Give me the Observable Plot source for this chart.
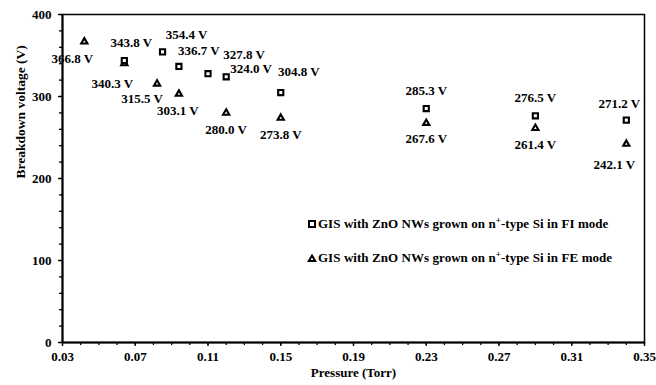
<!DOCTYPE html>
<html>
<head>
<meta charset="utf-8">
<script src="https://cdn.jsdelivr.net/npm/d3@7"></script>
<script src="https://cdn.jsdelivr.net/npm/@observablehq/plot@0.6"></script>
<style>
  html, body { margin: 0; padding: 0; background: white; }
  #wrap { position: relative; width: 656px; height: 385px; }
  .legend { position: absolute; left: 307px; font-family: "Liberation Serif", "Times New Roman", serif; font-weight: bold; font-size: 13px; word-spacing: 0.3px; white-space: nowrap; line-height: 16px; }
  .legend svg { vertical-align: middle; margin-right: 1px; position: relative; top: -1px; }
  .legend sup { font-size: 9px; vertical-align: 5px; line-height: 0; }
</style>
</head>
<body>
<div id="wrap"></div>
<script>
// FI mode (squares)
const pressureFI = [0.064, 0.085, 0.094, 0.110, 0.120, 0.150, 0.230, 0.290, 0.340];
const voltageFI  = [343.8, 354.4, 336.7, 327.8, 324.0, 304.8, 285.3, 276.5, 271.2];
// FE mode (triangles)
const pressureFE = [0.042, 0.064, 0.082, 0.094, 0.120, 0.150, 0.230, 0.290, 0.340];
const voltageFE  = [366.8, 340.3, 315.5, 303.1, 280.0, 273.8, 267.6, 261.4, 242.1];

const xTickValues = [0.03, 0.07, 0.11, 0.15, 0.19, 0.23, 0.27, 0.31, 0.35];
const yTickValues = [0, 100, 200, 300, 400];
const seriesNames = ["GIS with ZnO NWs grown on n", "-type Si in FI mode", "-type Si in FE mode"];

// label placement offsets (px), layout only
const dxFI = [7, 24, 20, 36, 25, 18, 0, 0, -7];
const dyFI = [-18, -17.5, -16, -18.5, -8, -21, -17.5, -17.5, -16];
const dxFE = [-12, -12, -15, -1, 0, 0, 0, 0, -12];
const dyFE = [17, 20, 15, 17, 17, 17, 16, 17, 21];

const fi = pressureFI.map((p, i) => ({p, v: voltageFI[i], dx: dxFI[i], dy: dyFI[i]}));
const fe = pressureFE.map((p, i) => ({p, v: voltageFE[i], dx: dxFE[i], dy: dyFE[i]}));

const xMinor = d3.range(3, 36).map(d => d / 100);
const yMinor = d3.range(0, 401, 20);

const fmtV = d => d3.format(".1f")(d) + " V";
const fam = "'Liberation Serif', 'Times New Roman', serif";

const labelMarks = (data) => data.map(d =>
  Plot.text([d], {x: "p", y: "v", text: r => fmtV(r.v), dx: d.dx, dy: d.dy, fontSize: 13, fontWeight: "bold", fill: "black"})
);

const chart = Plot.plot({
  width: 656,
  height: 385,
  marginLeft: 62,
  marginRight: 12,
  marginTop: 14,
  marginBottom: 43,
  style: {fontFamily: fam, fontWeight: "bold", fontSize: "13px", background: "white", color: "black"},
  x: {domain: [0.03, 0.35]},
  y: {domain: [0, 400]},
  marks: [
    Plot.axisX({ticks: xMinor, tickSize: 3, tickFormat: () => "", label: null, strokeWidth: 1.3}),
    Plot.axisX({ticks: xTickValues, tickSize: 4, tickPadding: 5, tickFormat: d3.format(".2f"), label: null, fontSize: 13, strokeWidth: 1.3}),
    Plot.axisY({ticks: yMinor, tickSize: 3, tickFormat: () => "", label: null, strokeWidth: 1.3}),
    Plot.axisY({ticks: yTickValues, tickSize: 4, tickPadding: 7, tickFormat: d3.format("d"), label: null, fontSize: 13, strokeWidth: 1.3}),
    Plot.frame({stroke: "black", strokeWidth: 1.5}),
    Plot.ruleY([0], {stroke: "black", strokeWidth: 2}),
    Plot.ruleX([0.03], {stroke: "black", strokeWidth: 2}),
    Plot.text(["Breakdown voltage (V)"], {frameAnchor: "left", rotate: -90, dx: -42, fontSize: 13.5, fontWeight: "bold"}),
    Plot.text(["Pressure (Torr)"], {frameAnchor: "bottom", dy: 34, fontSize: 13, fontWeight: "bold"}),
    Plot.dot(fe, {x: "p", y: "v", symbol: "triangle", r: 2.3, stroke: "black", strokeWidth: 2.1, fill: "white"}),
    Plot.dot(fi, {x: "p", y: "v", symbol: "square", r: 2.9, stroke: "black", strokeWidth: 2.1, fill: "white"}),
    ...labelMarks(fi),
    ...labelMarks(fe)
  ]
});

const wrap = document.getElementById("wrap");
wrap.appendChild(chart);

const sqIcon = '<svg width="10" height="10"><rect x="2" y="2" width="6" height="6" fill="white" stroke="black" stroke-width="2"/></svg>';
const triIcon = '<svg width="10" height="10"><polygon points="5,2.6 8.2,8 1.8,8" fill="white" stroke="black" stroke-width="2" stroke-linejoin="miter"/></svg>';

const l1 = document.createElement("div");
l1.className = "legend";
l1.style.top = "216px";
l1.innerHTML = sqIcon + seriesNames[0] + "<sup>+</sup>" + seriesNames[1];
wrap.appendChild(l1);

const l2 = document.createElement("div");
l2.className = "legend";
l2.style.top = "250px";
l2.innerHTML = triIcon + seriesNames[0] + "<sup>+</sup>" + seriesNames[2];
wrap.appendChild(l2);
</script>
</body>
</html>
